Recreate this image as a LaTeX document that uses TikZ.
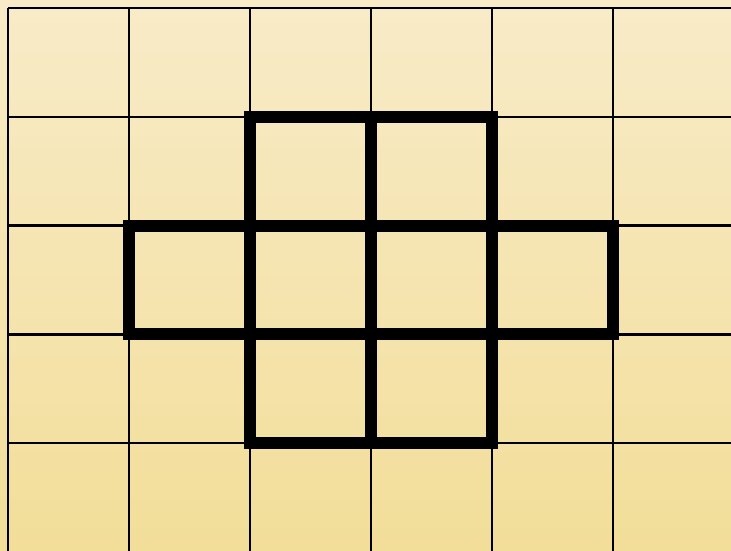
\documentclass[tikz,border=0pt]{standalone}
\begin{document}
\begin{tikzpicture}[x=1pt,y=-1pt,
  gridline/.style={line width=2.5pt,black},
  thickline/.style={line width=12pt,black,line cap=square,line join=miter}]
\shade[top color={rgb,255:red,248;green,235;blue,200},bottom color={rgb,255:red,242;green,222;blue,153}] (0,0) rectangle (731,550);
\useasboundingbox (0,0) rectangle (731,550);
% grid
\foreach \x in {8,129,250,371,492,613} \draw[gridline] (\x,8) -- (\x,552);
\foreach \y in {8,116.75,225.5,334.25,443} \draw[gridline] (8,\y) -- (733,\y);
% thick cross
\draw[thickline] (250,116.75) -- (492,116.75) -- (492,225.5) -- (613,225.5) -- (613,334.25) -- (492,334.25) -- (492,443) -- (250,443) -- (250,334.25) -- (129,334.25) -- (129,225.5) -- (250,225.5) -- cycle;
\draw[thickline] (371,116.75) -- (371,443);
\draw[thickline] (250,225.5) -- (492,225.5);
\draw[thickline] (250,334.25) -- (492,334.25);
\draw[thickline] (250,225.5) -- (250,334.25);
\draw[thickline] (492,225.5) -- (492,334.25);
\end{tikzpicture}
\end{document}
